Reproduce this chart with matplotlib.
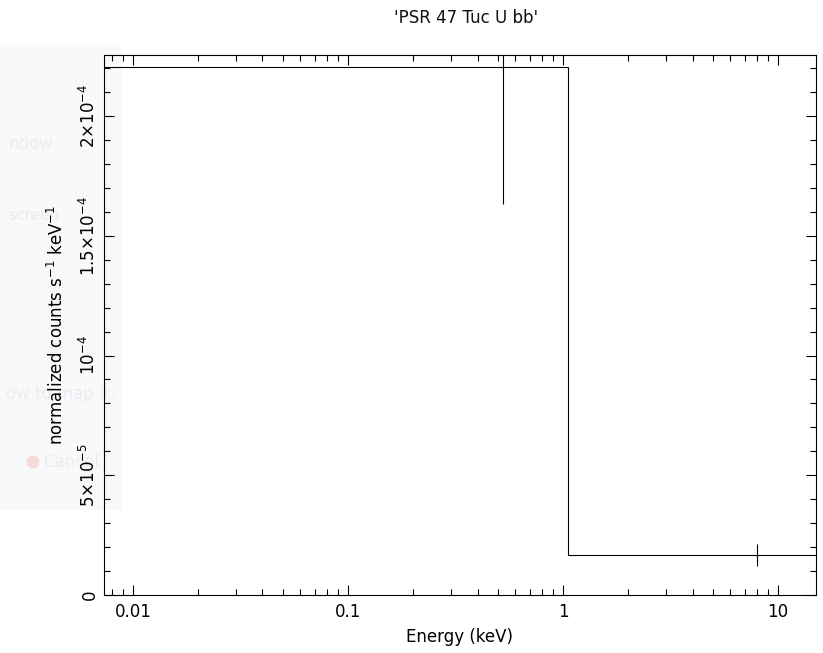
import matplotlib.pyplot as plt
import matplotlib.patches as mpatches
from matplotlib.ticker import FixedLocator, MultipleLocator, FixedFormatter, LogLocator, NullFormatter

# spectrum: two grouped bins, normalized counts s^-1 keV^-1
bin_edges = [0.005, 1.055, 20.0]
bin_centers = [0.526, 8.0]
rates = [2.205e-4, 1.67e-5]
rate_errs = [5.72e-5, 4.4e-6]

ytick_vals = [0, 5e-5, 1e-4, 1.5e-4, 2e-4]
ytick_text = ["0", r"5$\times$10$^{-5}$", r"10$^{-4}$",
              r"1.5$\times$10$^{-4}$", r"2$\times$10$^{-4}$"]
xtick_vals = [0.01, 0.1, 1, 10]
xtick_text = ["0.01", "0.1", "1", "10"]

plt.rcParams.update({
    "font.family": ["DejaVu Sans"],
    "font.size": 12,
    "mathtext.fontset": "dejavusans",
    "text.color": "#111111",
})

W, H = 823, 653
fig = plt.figure(figsize=(W / 100, H / 100), dpi=100)

# faint window left behind the plot
fig.patches.append(mpatches.Rectangle((0, 1 - 510 / H), 122 / W, 465 / H,
                                      transform=fig.transFigure,
                                      facecolor="#f8f9fb", edgecolor="none", zorder=0))
ghost = "#eaecef"
fig.text(8 / W, 1 - 144 / H, "ndow", color=ghost, fontsize=12, va="center", zorder=0.5)
fig.text(8 / W, 1 - 215 / H, "screen", color=ghost, fontsize=11, va="center", zorder=0.5)
fig.text(6 / W, 1 - 394 / H, "ow to map it.", color=ghost, fontsize=12, va="center", zorder=0.5)
fig.patches.append(mpatches.Ellipse((33 / W, 1 - 462 / H), 13 / W, 13 / H, transform=fig.transFigure,
                                    facecolor="#f6dcd9", edgecolor="none", zorder=0.5))
fig.text(43 / W, 1 - 462 / H, "Cancel", color=ghost, fontsize=12, va="center", zorder=0.5)

ax = fig.add_axes([104 / W, 1 - 595 / H, 712 / W, 540 / H])
ax.set_zorder(2)
ax.patch.set_alpha(0)

ax.stairs(rates, bin_edges, color="black", lw=0.8, baseline=None)
ax.errorbar(bin_centers, rates, yerr=rate_errs, fmt="none", ecolor="black", elinewidth=0.8, capsize=0)

ax.set_xscale("log")
ax.set_xlim(0.00733, 15.0)
ax.set_ylim(0, 2.255e-4)

ax.xaxis.set_major_locator(FixedLocator(xtick_vals))
ax.xaxis.set_major_formatter(FixedFormatter(xtick_text))
ax.xaxis.set_minor_locator(LogLocator(base=10, subs=range(2, 10)))
ax.xaxis.set_minor_formatter(NullFormatter())
ax.yaxis.set_major_locator(FixedLocator(ytick_vals))
ax.yaxis.set_major_formatter(FixedFormatter(ytick_text))
ax.yaxis.set_minor_locator(MultipleLocator(1e-5))

ax.tick_params(which="both", direction="in", top=True, right=True, width=0.8, color="black")
ax.tick_params(which="major", length=7)
ax.tick_params(which="minor", length=4)
ax.tick_params(axis="x", which="major", pad=6)
ax.tick_params(axis="y", which="major", pad=3.5)
for lab in ax.get_yticklabels():
    lab.set_rotation(90)
    lab.set_va("center")
for sp in ax.spines.values():
    sp.set_linewidth(0.8)

ax.set_xlabel("Energy (keV)", labelpad=5)
ax.set_ylabel(r"normalized counts s$^{-1}$ keV$^{-1}$", labelpad=9)
fig.text(466 / W, 1 - 18 / H, "'PSR 47 Tuc U bb'", ha="center", va="center")

fig.savefig("out.png", dpi=100)
